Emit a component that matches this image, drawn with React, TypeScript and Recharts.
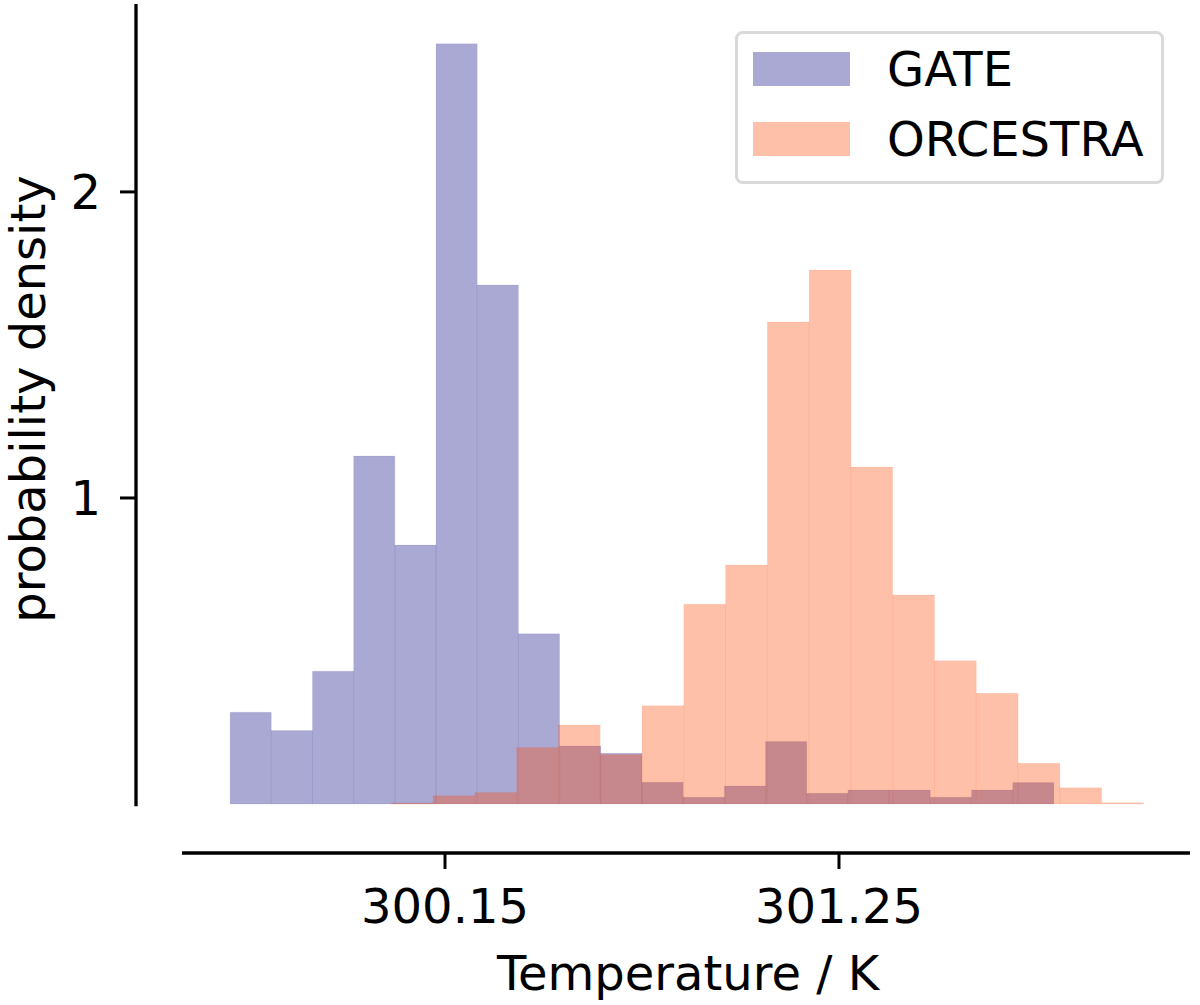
import React from 'react';
import { ComposedChart, XAxis, YAxis, ReferenceArea, ReferenceLine, Legend, Label } from 'recharts';

// histogram densities (density=True, so each series integrates to ~1)
const GATE_BIN_START = 299.55;
const GATE_BIN_WIDTH = 0.115;
const GATE_DENSITY = [
    0.300, 0.240, 0.434, 1.137, 0.846, 2.484, 1.696, 0.556, 0.190, 0.166,
    0.071, 0.022, 0.059, 0.204, 0.035, 0.046, 0.046, 0.022, 0.046, 0.070,
];

const ORCESTRA_BIN_START = 300.0;
const ORCESTRA_BIN_WIDTH = 0.11667;
const ORCESTRA_DENSITY = [
    0.003, 0.027, 0.038, 0.185, 0.258, 0.162, 0.321, 0.653, 0.781, 1.575,
    1.745, 1.101, 0.683, 0.468, 0.362, 0.133, 0.053, 0.004,
];

const SERIES = ['GATE', 'ORCESTRA'];
const X_TICKS = [300.15, 301.25];
const Y_TICKS = [1, 2];

const X_DOMAIN: [number, number] = [299.2873, 302.23];
const Y_DOMAIN: [number, number] = [-0.16, 2.614];
const X_SPINE_START = 299.4157;

const COLORS = ['#0c0984', '#fc4b06'];
const ALPHA = 0.35;
const FONT = '"DejaVu Sans", sans-serif';

const toBins = (start: number, width: number, values: number[]) =>
    values.map((v, i) => ({ x1: start + i * width, x2: start + (i + 1) * width, y: v }));

const gateBins = toBins(GATE_BIN_START, GATE_BIN_WIDTH, GATE_DENSITY);
const orcestraBins = toBins(ORCESTRA_BIN_START, ORCESTRA_BIN_WIDTH, ORCESTRA_DENSITY);

const XLabel = (props: any) => {
    const vb = props.viewBox || { x: 136, y: 853, width: 1054, height: 100 };
    return (
        <text x={vb.x + 552} y={vb.y + 137} textAnchor="middle" fontSize={48} fontFamily={FONT} fill="#000">
            Temperature / K
        </text>
    );
};

const YLabel = (props: any) => {
    const vb = props.viewBox || { x: 0, y: 4, width: 136, height: 849 };
    const cx = vb.x + 45;
    const cy = vb.y + 395;
    return (
        <text x={cx} y={cy} transform={`rotate(-90, ${cx}, ${cy})`} textAnchor="middle" fontSize={48} fontFamily={FONT} fill="#000">
            probability density
        </text>
    );
};

const HistLegend = () => (
    <svg width={429} height={153} style={{ display: 'block' }}>
        <rect x={1.5} y={1.5} width={426} height={150} rx={6} fill="#fff" stroke="#d9d9d9" strokeWidth={3} />
        {SERIES.map((name, i) => (
            <g key={name}>
                <rect x={18} y={21 + i * 70} width={97} height={34} fill={COLORS[i]} fillOpacity={ALPHA} />
                <text x={152} y={55 + i * 70} fontSize={48} fontFamily={FONT} fill="#000">{name}</text>
            </g>
        ))}
    </svg>
);

const App: React.FC = () => {
    return (
        <div style={{ position: 'absolute', left: 0, top: 0, width: 1200, height: 1005, background: '#fff', fontFamily: FONT }}>
            <ComposedChart width={1200} height={1005} margin={{ top: 4, right: 10, bottom: 52, left: 0 }}>
                <XAxis
                    type="number"
                    dataKey="x"
                    domain={X_DOMAIN}
                    allowDataOverflow
                    ticks={X_TICKS}
                    tickFormatter={(v: number) => v.toFixed(2)}
                    axisLine={false}
                    tickLine={{ stroke: '#000', strokeWidth: 3 }}
                    tickSize={16}
                    tickMargin={20}
                    height={100}
                    tick={{ fill: '#000', fontSize: 48, fontFamily: FONT }}
                >
                    <Label content={XLabel} />
                </XAxis>
                <YAxis
                    type="number"
                    domain={Y_DOMAIN}
                    allowDataOverflow
                    ticks={Y_TICKS}
                    axisLine={false}
                    tickLine={{ stroke: '#000', strokeWidth: 3 }}
                    tickSize={16}
                    tickMargin={19}
                    width={136}
                    tick={{ fill: '#000', fontSize: 48, fontFamily: FONT }}
                >
                    <Label content={YLabel} />
                </YAxis>
                {gateBins.map((b, i) => (
                    <ReferenceArea key={`g${i}`} x1={b.x1} x2={b.x2} y1={0} y2={b.y}
                        fill={COLORS[0]} fillOpacity={ALPHA} stroke={COLORS[0]} strokeOpacity={0.06} strokeWidth={1} />
                ))}
                {orcestraBins.map((b, i) => (
                    <ReferenceArea key={`o${i}`} x1={b.x1} x2={b.x2} y1={0} y2={b.y}
                        fill={COLORS[1]} fillOpacity={ALPHA} stroke={COLORS[1]} strokeOpacity={0.06} strokeWidth={1} />
                ))}
                <ReferenceLine
                    segment={[{ x: X_SPINE_START, y: Y_DOMAIN[0] }, { x: X_DOMAIN[1], y: Y_DOMAIN[0] }]}
                    stroke="#000" strokeWidth={3.3} ifOverflow="visible"
                />
                <ReferenceLine
                    segment={[{ x: X_DOMAIN[0], y: -0.007 }, { x: X_DOMAIN[0], y: Y_DOMAIN[1] }]}
                    stroke="#000" strokeWidth={3.3} ifOverflow="visible"
                />
                <Legend
                    layout="horizontal"
                    align="center"
                    verticalAlign="middle"
                    content={HistLegend}
                    wrapperStyle={{ left: 735, top: 31, width: 429, height: 153 }}
                />
            </ComposedChart>
        </div>
    );
};

export default App;
